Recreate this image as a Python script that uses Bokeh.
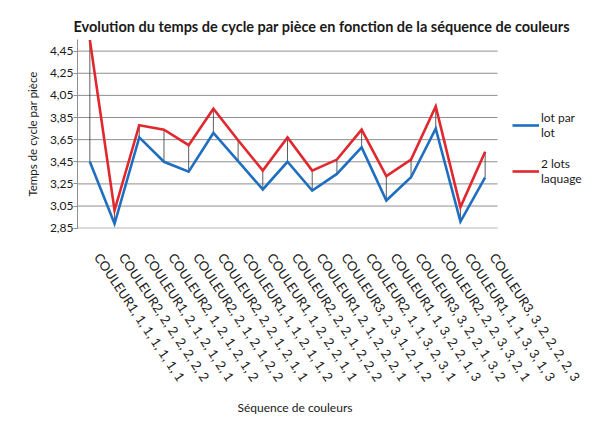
import math
from bokeh.plotting import figure
from bokeh.models import (Range1d, FixedTicker, Legend, LegendItem,
                          ColumnDataSource, LinearAxis, Title)
from bokeh.embed import file_html
from bokeh.resources import INLINE

categories = [
    "COULEUR1, 1, 1, 1, 1, 1, 1",
    "COULEUR2, 2, 2, 2, 2, 2, 2",
    "COULEUR1, 2, 1, 2, 1, 2, 1",
    "COULEUR2, 1, 2, 1, 2, 1, 2",
    "COULEUR2, 2, 1, 2, 1, 2, 2",
    "COULEUR2, 2, 2, 1, 2, 1, 1",
    "COULEUR1, 1, 1, 2, 1, 1, 2",
    "COULEUR1, 1, 2, 2, 2, 1, 1",
    "COULEUR2, 2, 2, 1, 2, 2, 2",
    "COULEUR1, 2, 1, 2, 2, 2, 1",
    "COULEUR3, 2, 3, 1, 2, 1, 2",
    "COULEUR2, 1, 1, 3, 2, 3, 1",
    "COULEUR1, 1, 3, 2, 2, 1, 3",
    "COULEUR3, 3, 2, 2, 1, 3, 2",
    "COULEUR2, 2, 2, 3, 3, 2, 1",
    "COULEUR1, 1, 1, 3, 3, 1, 3",
    "COULEUR3, 3, 2, 2, 2, 2, 3",
]
lot_par_lot = [3.45, 2.89, 3.67, 3.45, 3.36, 3.71, 3.455, 3.20, 3.45, 3.19,
               3.34, 3.58, 3.10, 3.31, 3.75, 2.91, 3.31]
deux_lots_laquage = [4.55, 3.01, 3.78, 3.74, 3.60, 3.93, 3.645, 3.37, 3.67, 3.37,
                     3.47, 3.74, 3.32, 3.47, 3.95, 3.04, 3.54]
y_ticks = [2.85, 3.05, 3.25, 3.45, 3.65, 3.85, 4.05, 4.25, 4.45]
y_tick_labels = ["2,85", "3,05", "3,25", "3,45", "3,65", "3,85", "4,05", "4,25", "4,45"]
series_names = ["lot par\nlot", "2 lots\nlaquage"]

FONT = "Lato"
TXT = "#1a1a1a"
GRID = "#8f8f8f"

n = len(categories)
LEGEND_ROOM = 3.845           # extra room (in category widths) right of the plot for the legend
xpos = [i + 0.5 for i in range(n)]   # category centres (Excel "between tick marks")
src = ColumnDataSource(dict(x=xpos, a=lot_par_lot, b=deux_lots_laquage))
gsrc = ColumnDataSource(dict(x0=[0] * len(y_ticks), x1=[n] * len(y_ticks), y=y_ticks))

p = figure(width=592, height=420,
           x_range=Range1d(0, n + LEGEND_ROOM),
           y_range=Range1d(2.847, 4.555),
           x_axis_location=None,
           output_backend="svg", toolbar_location=None)
p.min_border_left = 77
p.min_border_right = 0
p.min_border_top = 39
p.min_border_bottom = 188
p.outline_line_color = None
p.background_fill_color = "white"
p.border_fill_color = "white"

p.title.text = "Evolution du temps de cycle par pièce en fonction de la séquence de couleurs"
p.title.text_font = FONT
p.title.text_font_size = "14.5px"
p.title.text_font_style = "bold"
p.title.text_color = TXT
p.title.align = "left"
p.title.offset = -4
p.title.standoff = 10

# horizontal gridlines only across the plot area (legend sits to the right)
p.xgrid.grid_line_color = None
p.ygrid.grid_line_color = None
p.segment(x0="x0", y0="y", x1="x1", y1="y", source=gsrc, line_color=GRID, line_width=1)

p.yaxis.ticker = FixedTicker(ticks=y_ticks)
p.yaxis.major_label_overrides = {t: l for t, l in zip(y_ticks, y_tick_labels)}
p.yaxis.axis_label = "Temps de cycle par pièce"
p.yaxis.axis_label_text_font = FONT
p.yaxis.axis_label_text_font_size = "11.5px"
p.yaxis.axis_label_text_font_style = "normal"
p.yaxis.axis_label_text_color = TXT
p.yaxis.axis_label_standoff = 8
p.yaxis.major_label_text_font = FONT
p.yaxis.major_label_text_font_size = "12px"
p.yaxis.major_label_text_color = TXT
p.yaxis.major_label_standoff = 0
p.yaxis.axis_line_color = GRID
p.yaxis.major_tick_line_color = GRID
p.yaxis.major_tick_out = 4
p.yaxis.major_tick_in = 0
p.yaxis.minor_tick_line_color = None

# category labels: same positions, anchor nudged right like Excel's rotated labels
p.extra_x_ranges = {"lab": Range1d(-0.32, n + LEGEND_ROOM - 0.32)}
xax = LinearAxis(x_range_name="lab", ticker=FixedTicker(ticks=xpos),
                 major_label_overrides={t: c for t, c in zip(xpos, categories)})
xax.major_label_text_font = FONT
xax.major_label_text_font_size = "13px"
xax.major_label_text_color = TXT
xax.major_label_orientation = -0.98
xax.major_label_standoff = 20
xax.axis_line_color = None
xax.major_tick_line_color = None
xax.minor_tick_line_color = None
p.add_layout(xax, "below")

xtitle = Title(text="Séquence de couleurs", align="left", offset=160,
               text_font=FONT, text_font_size="12px", text_font_style="normal",
               text_color=TXT, standoff=12)
p.add_layout(xtitle, "below")

p.segment(x0="x", y0="a", x1="x", y1="b", source=src, line_color="#333333", line_width=0.8)

r1 = p.line("x", "a", source=src, line_color="#1f6fc0", line_width=2.6, line_join="miter")
r2 = p.line("x", "b", source=src, line_color="#e0282e", line_width=2.6, line_join="miter")

legend = Legend(items=[LegendItem(label=series_names[0], renderers=[r1]),
                       LegendItem(label=series_names[1], renderers=[r2])],
                location=(435, 42))
legend.border_line_color = None
legend.background_fill_alpha = 0
legend.margin = 0
legend.padding = 0
legend.glyph_width = 27
legend.label_standoff = 2
legend.spacing = 16
legend.label_text_font = FONT
legend.label_text_font_size = "12px"
legend.label_text_color = TXT
legend.label_text_line_height = 1.4
p.add_layout(legend)

open("out.html", "w").write(file_html(p, INLINE))
